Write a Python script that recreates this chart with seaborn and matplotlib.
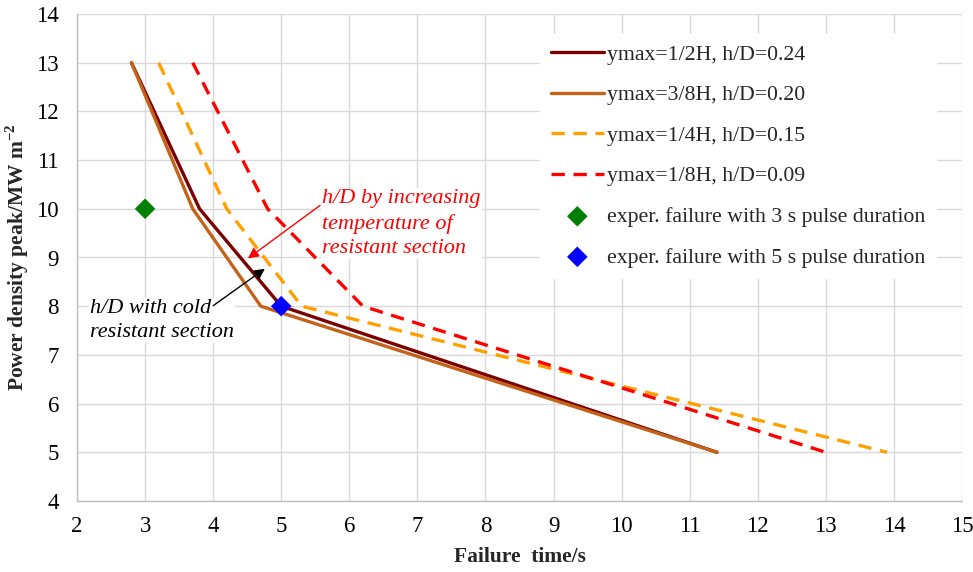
import matplotlib
matplotlib.use("Agg")
import matplotlib.pyplot as plt
import seaborn as sns
import pandas as pd

# ---- data ----
x_half = [2.8, 3.8, 5.0, 11.4]
y_half = [13, 10, 8, 5]
x_38 = [2.8, 3.7, 4.7, 11.4]
y_38 = [13, 10, 8, 5]
x_quarter = [3.2, 4.2, 5.3, 13.9]
y_quarter = [13, 10, 8, 5]
x_eighth = [3.7, 4.8, 6.2, 13.0]
y_eighth = [13, 10, 8, 5]
exp3_x, exp3_y = [3.0], [10.0]
exp5_x, exp5_y = [5.0], [8.0]

labels = ["ymax=1/2H, h/D=0.24", "ymax=3/8H, h/D=0.20",
          "ymax=1/4H, h/D=0.15", "ymax=1/8H, h/D=0.09"]
exp_labels = ["exper. failure with 3 s pulse duration",
              "exper. failure with 5 s pulse duration"]
x_ticks = list(range(2, 16))
y_ticks = list(range(4, 15))

sns.set_theme(style="white")
plt.rcParams["font.family"] = ["Liberation Serif", "DejaVu Serif"]
plt.rcParams["mathtext.fontset"] = "custom"
plt.rcParams["mathtext.rm"] = "Liberation Serif"
plt.rcParams["mathtext.bf"] = "Liberation Serif:bold"

fig = plt.figure(figsize=(9.73, 5.72), dpi=100)
ax = fig.add_axes([77/973, 1-501/572, 885/973, 487/572])

series = [
    (x_half, y_half, labels[0], "#7B0000", None),
    (x_38, y_38, labels[1], "#C5621A", None),
    (x_quarter, y_quarter, labels[2], "#FFA000", (4, 2.6)),
    (x_eighth, y_eighth, labels[3], "#FF0000", (4, 2.6)),
]
for xs, ys, lab, col, dash in series:
    df = pd.DataFrame({"x": xs, "y": ys})
    sns.lineplot(data=df, x="x", y="y", sort=False, ax=ax, color=col,
                 linewidth=2.4, label=lab, estimator=None)
    ln = ax.lines[-1]
    if dash is not None:
        ln.set_dashes(dash)

for xs, ys, lab, col in [(exp3_x, exp3_y, exp_labels[0], "#008000"),
                         (exp5_x, exp5_y, exp_labels[1], "#0000FF")]:
    df = pd.DataFrame({"x": xs, "y": ys})
    sns.scatterplot(data=df, x="x", y="y", ax=ax, marker="D", s=110,
                    color=col, edgecolor="none", label=lab, zorder=5)

ax.set_xlim(2, 15)
ax.set_ylim(4, 14)
ax.set_xticks(x_ticks)
ax.set_yticks(y_ticks)
ax.grid(True, color="#D9D9D9", linewidth=1.0)
ax.set_axisbelow(True)
for s in ["top", "right"]:
    ax.spines[s].set_visible(False)
for s in ["left", "bottom"]:
    ax.spines[s].set_color("#BFBFBF")
    ax.spines[s].set_linewidth(1.0)
ax.tick_params(axis="both", length=0, labelsize=16.5, colors="#000000")
ax.tick_params(axis="x", pad=11)
ax.tick_params(axis="y", pad=13)

ax.set_xlabel("Failure  time/s", fontsize=15.5, fontweight="bold", labelpad=7)
ax.set_ylabel(r"Power density peak/MW m$^{\mathbf{-2}}$", fontsize=15.5,
              fontweight="bold", labelpad=4)

h, l = ax.get_legend_handles_labels()
leg = ax.legend(h, l, loc="upper left", bbox_to_anchor=(0.5105, 0.982),
                fontsize=15.7, frameon=True, framealpha=1, edgecolor="white",
                facecolor="white", handlelength=2.45, handletextpad=0.15,
                labelspacing=0.93, borderpad=0.5, fancybox=False)

# annotation texts
txt_kw = dict(fontsize=16, style="italic", ha="left", va="center",
              linespacing=1.36, zorder=6,
              bbox=dict(boxstyle="square,pad=0.05", fc="white", ec="none"))
ax.text(5.6, 9.70, "h/D by increasing\ntemperature of\nresistant section",
        color="#FF0000", **txt_kw)
ax.text(2.19, 7.70, "h/D with cold\nresistant section",
        color="#000000", **txt_kw)

# arrows
ax.annotate("", xy=(4.51, 8.98), xytext=(5.57, 10.07),
            arrowprops=dict(arrowstyle="-|>", color="#FF0000", lw=1.0,
                            mutation_scale=16, shrinkA=0, shrinkB=0),
            zorder=7)
ax.annotate("", xy=(4.76, 8.77), xytext=(4.0, 8.01),
            arrowprops=dict(arrowstyle="-|>", color="#000000", lw=1.0,
                            mutation_scale=16, shrinkA=0, shrinkB=0),
            zorder=7)

fig.savefig("out.png", dpi=100)
